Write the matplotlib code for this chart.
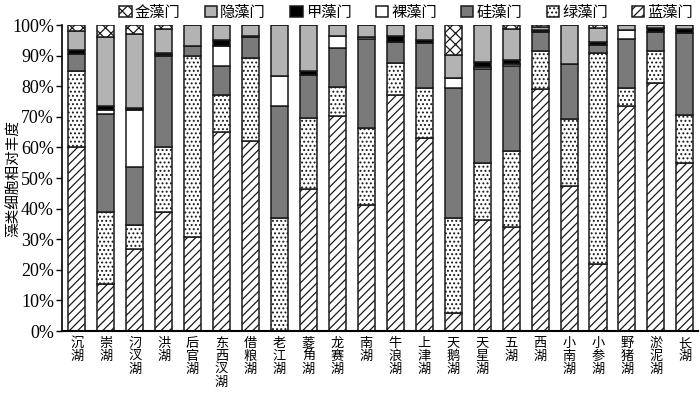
import matplotlib
matplotlib.use("Agg")
import matplotlib.pyplot as plt
import numpy as np

plt.rcParams['font.family'] = ['Noto Sans CJK SC', 'DejaVu Sans']
plt.rcParams['hatch.linewidth'] = 0.9

# lakes (x axis)
lakes = ["沉湖", "崇湖", "汈汊湖", "洪湖", "后官湖", "东西汊湖", "借粮湖", "老江湖",
         "菱角湖", "龙赛湖", "南湖", "牛浪湖", "上津湖", "天鹅湖", "天星湖", "五湖",
         "西湖", "小南湖", "小参湖", "野猪湖", "淤泥湖", "长湖"]

# relative abundance (%) of each phylum, bottom to top
lanzao = [60, 15.3, 26.7, 39, 30.8, 64.9, 62.2, 0, 46.4, 70.4, 41.2,
          77.1, 63, 5.8, 36.3, 34.1, 79, 47.5, 21.8, 73.6, 81.2, 54.8]
lvzao = [25, 23.5, 7.9, 21, 59.1, 12.2, 26.9, 37, 23.1, 9.4, 25.0,
         10.6, 16.5, 31.2, 18.5, 24.7, 12.5, 21.8, 68.9, 5.7, 10.4, 15.8]
guizao = [5.4, 32.0, 19.1, 30, 3.2, 9.5, 7.1, 36.6, 14.2, 12.6, 29.1,
          6.9, 14.5, 42.5, 30.7, 27.9, 6.1, 17.8, 2.8, 16.0, 6.2, 26.7]
luozao = [0, 1.4, 18.5, 0.3, 0, 6.6, 0, 9.8, 0, 4.0, 0.7,
          0, 0, 3.3, 0.9, 0.7, 0, 0, 0, 3.1, 0, 0]
jiazao = [1.4, 1.2, 0.6, 0.7, 0, 1.9, 0.3, 0, 1.4, 0, 0,
          1.9, 1.1, 0, 1.6, 1.2, 0.8, 0, 0.8, 0, 1.1, 1.3]
yinzao = [6.2, 22.8, 24.2, 7.7, 6.9, 4.9, 3.5, 16.6, 14.9, 3.6, 4.0,
          3.5, 4.9, 7.4, 12.0, 10.1, 0.8, 12.9, 4.6, 1.6, 1.1, 1.4]
jinzao = [2.0, 3.8, 3.0, 1.3, 0, 0, 0, 0, 0, 0, 0,
          0, 0, 9.8, 0, 1.3, 0.8, 0, 1.1, 0, 0, 0]

series = [
    ("蓝藻门", lanzao, "white", "////"),
    ("绿藻门", lvzao, "white", "...."),
    ("硅藻门", guizao, "#7a7a7a", None),
    ("裸藻门", luozao, "white", None),
    ("甲藻门", jiazao, "black", None),
    ("隐藻门", yinzao, "#b3b3b3", None),
    ("金藻门", jinzao, "white", "xxx"),
]

fig = plt.figure(figsize=(7, 3.97), dpi=100)
ax = fig.add_axes([0.089, 0.166, 0.908, 0.771])

x = np.arange(len(lakes))
bottom = np.zeros(len(lakes))
handles = {}
for name, vals, color, hatch in series:
    vals = np.array(vals)
    b = ax.bar(x, vals, 0.59, bottom=bottom, color=color, edgecolor="#1a1a1a",
               linewidth=1.1, hatch=hatch, label=name)
    handles[name] = b
    bottom += vals

ax.set_xlim(-0.5, 21.45)
ax.set_ylim(0, 100)
ax.set_yticks(np.arange(0, 101, 10))
ax.set_yticklabels([f"{v}%" for v in range(0, 101, 10)],
                   family="Liberation Serif", fontsize=13)
ax.set_xticks(x)
ax.set_xticklabels(["\n".join(n) for n in lakes], fontsize=9.5, linespacing=1.0,
                   va="top")
ax.tick_params(axis="x", length=0, pad=4)
ax.tick_params(axis="y", length=4, width=1, direction="out", pad=2)
ax.spines["top"].set_visible(False)
ax.spines["right"].set_visible(False)
ax.spines["left"].set_linewidth(1.2)
ax.spines["bottom"].set_linewidth(1.5)
ax.set_ylabel("藻类细胞相对丰度", fontsize=10.5)
ax.yaxis.set_label_coords(-0.067, 0.5)

order = ["金藻门", "隐藻门", "甲藻门", "裸藻门", "硅藻门", "绿藻门", "蓝藻门"]
fig.legend([handles[n] for n in order], order, loc="upper right",
           bbox_to_anchor=(1.01, 1.025), ncol=7, frameon=False, fontsize=11,
           handlelength=0.8, handleheight=0.8, handletextpad=0.2,
           columnspacing=1.6)

fig.savefig("out.png", dpi=100)
